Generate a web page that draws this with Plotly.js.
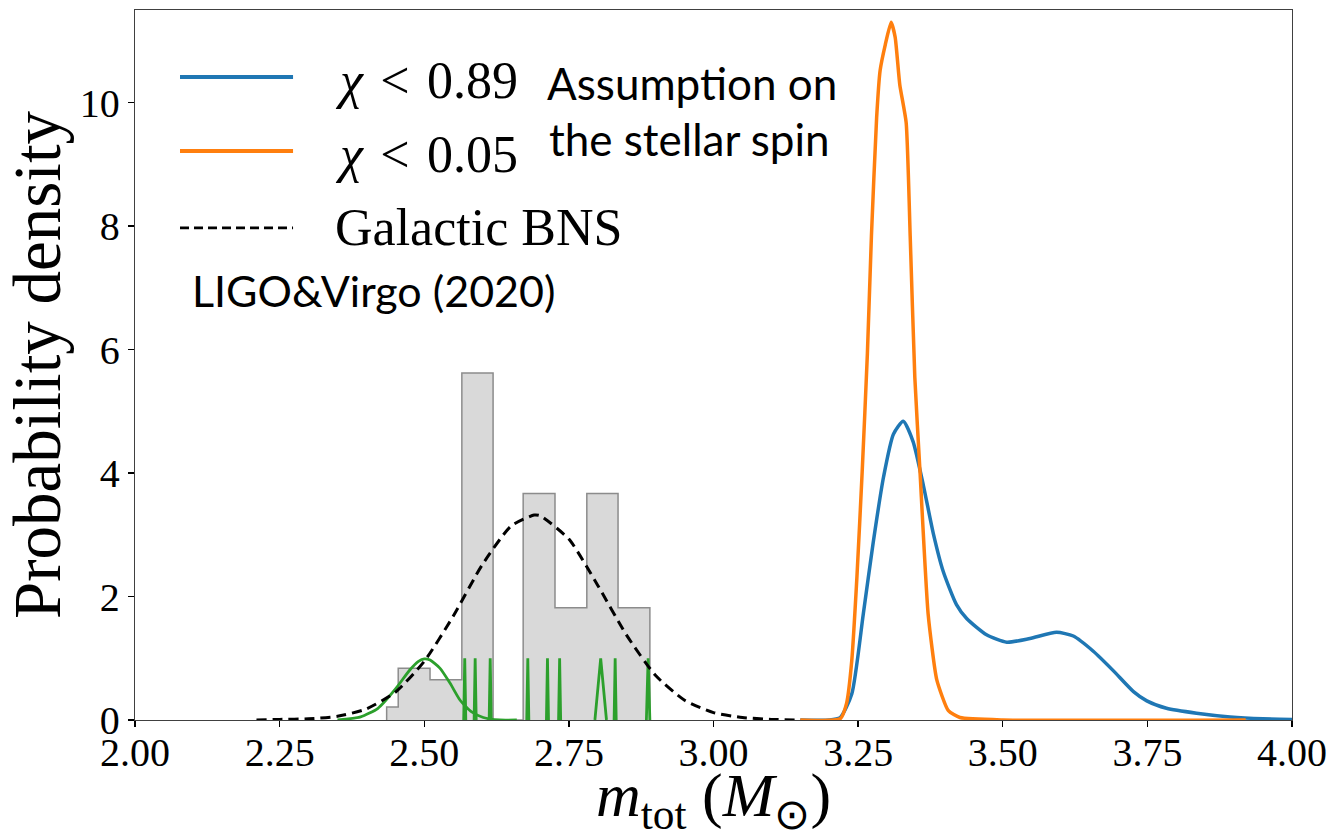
<!DOCTYPE html>
<html>
<head>
<meta charset="utf-8">
<script src="https://cdn.plot.ly/plotly-3.0.1.min.js"></script>
<style>html,body{margin:0;padding:0;background:#fff;}#chart{width:1330px;height:838px;}</style>
</head>
<body>
<div id="chart"></div>
<script>
// ---- Data ----
// Galactic BNS histogram (bin edges and densities)
const binEdges   = [2.435, 2.455, 2.510, 2.565, 2.619, 2.671, 2.726, 2.781, 2.835, 2.890];
const binHeights = [0.21, 0.84, 0.65, 5.62, 0.00, 3.67, 1.82, 3.67, 1.82];

// Galactic BNS fitted density (dashed)
const bnsX = [2.21, 2.25, 2.30, 2.35, 2.40, 2.45, 2.50, 2.55, 2.60, 2.65, 2.69, 2.70, 2.75, 2.80, 2.85, 2.90, 2.95, 3.00, 3.05, 3.10, 3.15];
const bnsY = [0.00, 0.01, 0.02, 0.06, 0.18, 0.45, 0.95, 1.68, 2.51, 3.14, 3.32, 3.31, 2.93, 2.18, 1.37, 0.72, 0.32, 0.12, 0.04, 0.01, 0.00];

// Individual Galactic systems (green): one broad measurement + narrow ones
const broadX = [2.35, 2.39, 2.42, 2.45, 2.475, 2.49, 2.50, 2.51, 2.527, 2.545, 2.562, 2.582, 2.602, 2.63, 2.66];
const broadY = [0.00, 0.05, 0.19, 0.50, 0.81, 0.95, 0.99, 0.97, 0.84, 0.59, 0.32, 0.13, 0.04, 0.00, 0.00];
const spikeCenters = [2.570, 2.588, 2.614, 2.679, 2.713, 2.734, 2.805, 2.830, 2.887];
const spikeHalfWidths = [0.0018, 0.0018, 0.0018, 0.0018, 0.0018, 0.0018, 0.010, 0.0018, 0.003];
const spikePeaks = [1.0, 1.0, 1.0, 1.0, 1.0, 1.0, 1.0, 1.0, 1.0];

// chi < 0.89 (blue)
const blueX = [3.15, 3.20, 3.219, 3.239, 3.259, 3.276, 3.294, 3.311, 3.328, 3.345, 3.363, 3.380, 3.397, 3.420, 3.438, 3.472, 3.507, 3.547, 3.593, 3.622, 3.657, 3.691, 3.726, 3.749, 3.783, 3.835, 3.893, 3.950, 4.00];
const blueY = [0.00, 0.00, 0.04, 0.42, 1.72, 2.87, 3.94, 4.63, 4.84, 4.51, 3.79, 3.02, 2.41, 1.87, 1.64, 1.38, 1.26, 1.32, 1.42, 1.36, 1.11, 0.80, 0.46, 0.31, 0.19, 0.11, 0.05, 0.02, 0.01];

// chi < 0.05 (orange)
const orangeX = [3.15, 3.219, 3.230, 3.239, 3.248, 3.257, 3.266, 3.273, 3.282, 3.288, 3.297, 3.307, 3.314, 3.322, 3.333, 3.340, 3.348, 3.357, 3.371, 3.386, 3.406, 3.426, 3.50, 3.92];
const orangeY = [0.00, 0.02, 0.27, 0.96, 2.33, 4.02, 5.93, 7.84, 9.76, 10.52, 10.94, 11.30, 11.06, 10.29, 9.68, 7.84, 5.55, 4.02, 1.72, 0.65, 0.15, 0.04, 0.00, 0.00];

const xTickVals = [2.00, 2.25, 2.50, 2.75, 3.00, 3.25, 3.50, 3.75, 4.00];
const xTickText = ["2.00", "2.25", "2.50", "2.75", "3.00", "3.25", "3.50", "3.75", "4.00"];
const yTickVals = [0, 2, 4, 6, 8, 10];
const yTickText = ["0", "2", "4", "6", "8", "10"];

const seriesNames = ["χ < 0.89", "χ < 0.05", "Galactic BNS"];

// ---- Build traces ----
// step outline of the histogram
const histX = [binEdges[0]].concat(binEdges);
const histY = [0].concat(binHeights).concat([0]);

const spikeX = [], spikeY = [];
spikeCenters.forEach((c, i) => {
  const w = spikeHalfWidths[i];
  spikeX.push(c - w, c, c + w, null);
  spikeY.push(0, spikePeaks[i], 0, null);
});

const serif = "Liberation Serif, Times New Roman, serif";
const sans = "Lato, Open Sans, sans-serif";

const traces = [
  {x: histX, y: histY, type: "scatter", mode: "lines", line: {shape: "hv", color: "#8c8c8c", width: 1.5},
   fill: "tozeroy", fillcolor: "#d9d9d9", showlegend: false, hoverinfo: "skip"},
  {x: broadX, y: broadY, type: "scatter", mode: "lines", line: {color: "#2ca02c", width: 2.8, shape: "spline", smoothing: 0.6}, showlegend: false},
  {x: spikeX, y: spikeY, type: "scatter", mode: "lines", line: {color: "#2ca02c", width: 2.8}, showlegend: false, connectgaps: false},
  {x: bnsX, y: bnsY, type: "scatter", mode: "lines", name: seriesNames[2], line: {color: "#000", width: 3, dash: "10px,6px", shape: "spline", smoothing: 0.6}},
  {x: blueX, y: blueY, type: "scatter", mode: "lines", name: seriesNames[0], line: {color: "#1f77b4", width: 3.5, shape: "spline", smoothing: 0.6}},
  {x: orangeX, y: orangeY, type: "scatter", mode: "lines", name: seriesNames[1], line: {color: "#ff7f0e", width: 3.5, shape: "spline", smoothing: 0.5}}
];

// manual legend (long line samples as in the reference)
const legendRows = [
  {y: 0.9056, color: "#1f77b4", dash: "solid", width: 4, text: "<i>χ</i>\u2004&lt;\u20040.89", ty: 0.9014},
  {y: 0.8014, color: "#ff7f0e", dash: "solid", width: 4, text: "<i>χ</i>\u2004&lt;\u20040.05", ty: 0.7958},
  {y: 0.6930, color: "#000000", dash: "9px,5px", width: 2.8, text: "Galactic BNS", ty: 0.693}
];
const shapes = legendRows.map(r => ({type: "line", xref: "paper", yref: "paper", x0: 0.0389, x1: 0.1366, y0: r.y, y1: r.y,
  line: {color: r.color, width: r.width, dash: r.dash}}));
const annotations = legendRows.map(r => ({xref: "paper", yref: "paper", x: 0.1711, y: r.ty, xanchor: "left", yanchor: "middle",
  text: r.text, showarrow: false, font: {family: serif, size: 52, color: "#000"}}));
annotations.push(
  {xref: "paper", yref: "paper", x: 0.3544, y: 0.8972, xanchor: "left", yanchor: "middle", text: "Assumption on", showarrow: false, font: {family: sans, size: 44, color: "#000"}},
  {xref: "paper", yref: "paper", x: 0.3561, y: 0.8183, xanchor: "left", yanchor: "middle", text: "the stellar spin", showarrow: false, font: {family: sans, size: 44, color: "#000"}},
  {xref: "paper", yref: "paper", x: 0.0475, y: 0.6056, xanchor: "left", yanchor: "middle", text: "LIGO&amp;Virgo (2020)", showarrow: false, font: {family: sans, size: 43, color: "#000"}}
);

const layout = {
  width: 1330, height: 838,
  margin: {l: 135, r: 38, t: 10, b: 118, pad: 0},
  paper_bgcolor: "#fff", plot_bgcolor: "#fff",
  showlegend: false,
  font: {family: serif, color: "#000"},
  xaxis: {range: [2, 4], tickvals: xTickVals, ticktext: xTickText, ticks: "outside", ticklen: 6, tickwidth: 1.3, tickcolor: "#000",
    showline: true, linecolor: "#404040", linewidth: 1.3, mirror: true, showgrid: false, zeroline: false,
    tickfont: {family: serif, size: 40, color: "#000"}, ticklabelstandoff: -9,
    title: {text: "<i>m</i><sub>tot</sub> (<i>M</i><sub>⊙</sub>)", font: {family: serif, size: 62, color: "#000"}, standoff: 14}},
  yaxis: {range: [0, 11.5], tickvals: yTickVals, ticktext: yTickText, ticks: "outside", ticklen: 6, tickwidth: 1.3, tickcolor: "#000",
    showline: true, linecolor: "#404040", linewidth: 1.3, mirror: true, showgrid: false, zeroline: false,
    tickfont: {family: serif, size: 40, color: "#000"},
    title: {text: "Probability density", font: {family: serif, size: 67, color: "#000"}, standoff: 6}},
  shapes: shapes,
  annotations: annotations
};

Plotly.newPlot("chart", traces, layout, {displayModeBar: false, staticPlot: true});
</script>
</body>
</html>
